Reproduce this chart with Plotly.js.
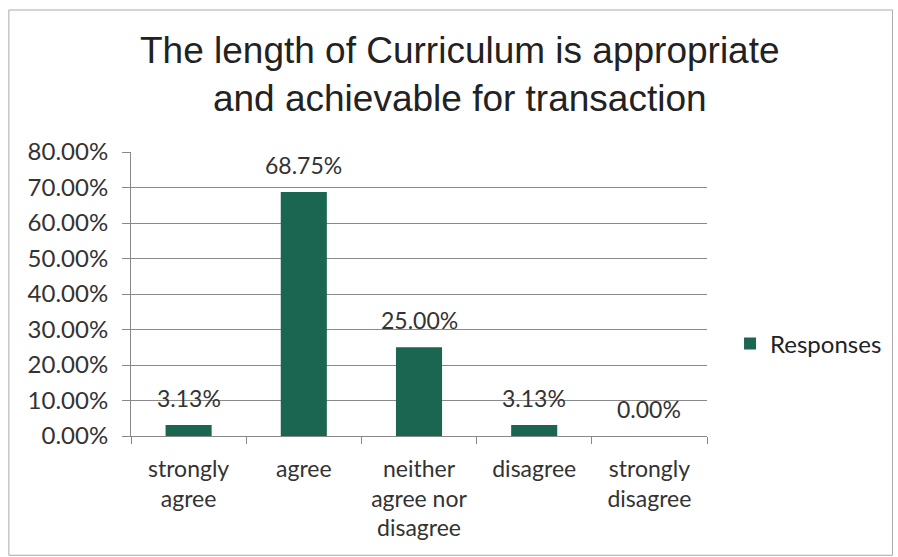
<!DOCTYPE html>
<html><head><meta charset="utf-8">
<script src="https://cdn.plot.ly/plotly-3.0.1.min.js"></script>
<style>body{margin:0;background:#fff}#c{width:898px;height:557px}</style>
</head><body><div id="c"></div>
<script>
const categories = ["strongly<br>agree", "agree", "neither<br>agree nor<br>disagree", "disagree", "strongly<br>disagree"];
const values = [0.0313, 0.6875, 0.25, 0.0313, 0.0];
const valueLabels = ["3.13%", "68.75%", "25.00%", "3.13%", "0.00%"];
const seriesName = "Responses";
const yTicks = [0, 0.1, 0.2, 0.3, 0.4, 0.5, 0.6, 0.7, 0.8];

const font = "Lato, 'Open Sans', sans-serif";
const trace = {
  type: 'bar', x: categories, y: values, name: seriesName,
  marker: {color: '#1b6650'}, showlegend: true
};
const annotations = categories.map((c, i) => ({
  x: c, y: values[i], xref: 'x', yref: 'y', text: valueLabels[i],
  showarrow: false, yanchor: 'bottom', yshift: 11,
  font: {family: font, size: 23, color: '#333'}
}));
const layout = {
  width: 898, height: 557,
  margin: {l: 131, r: 191, t: 152, b: 121, autoexpand: false},
  paper_bgcolor: '#fff', plot_bgcolor: '#fff',
  bargap: 0.6,
  title: {text: 'The length of Curriculum is appropriate<br>and achievable for transaction',
    font: {family: "'Liberation Sans', Arial, sans-serif", size: 37, color: '#222'},
    xref: 'container', x: 0.512, xanchor: 'center', yref: 'container', y: 0.887, yanchor: 'middle'},
  xaxis: {type: 'category', showline: true, linecolor: '#888', linewidth: 1,
    ticks: 'outside', tickson: 'boundaries', ticklen: 7, tickcolor: '#888',
    tickfont: {family: font, size: 23, color: '#333'}, showgrid: false, ticklabelstandoff: 12},
  yaxis: {range: [0, 0.8], tickvals: yTicks, tickformat: '.2%',
    showline: true, linecolor: '#888', linewidth: 1,
    ticks: 'outside', ticklen: 8, tickcolor: '#888',
    showgrid: true, gridcolor: '#8a8a8a', gridwidth: 1, zeroline: false,
    tickfont: {family: font, size: 24, color: '#333'}, ticklabelstandoff: 9},
  legend: {x: 1.04, y: 0.324, xanchor: 'left', yanchor: 'middle',
    font: {family: font, size: 24, color: '#222'}, bgcolor: 'rgba(0,0,0,0)'},
  annotations: annotations,
  shapes: [{type: 'rect', xref: 'paper', yref: 'paper',
    x0: -0.212, x1: 1.322, y0: -0.42, y1: 1.5,
    line: {color: '#aaa', width: 1}}]
};
Plotly.newPlot('c', [trace], layout, {displayModeBar: false, staticPlot: true});
</script></body></html>
